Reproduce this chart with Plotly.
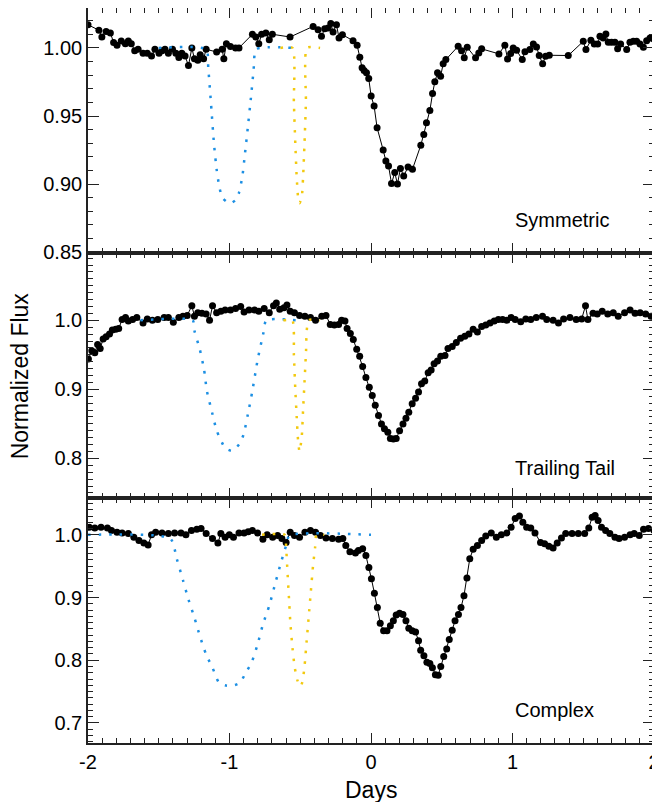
import plotly.graph_objects as go
from plotly.subplots import make_subplots

# ---------------- Panel 1: Symmetric ----------------
sym_x = [-2.0, -1.923, -1.902, -1.872, -1.842, -1.819, -1.795, -1.765, -1.736, -1.715, -1.694, -1.670, -1.646,
         -1.611, -1.581, -1.551, -1.527, -1.498, -1.477, -1.456, -1.432, -1.403, -1.379, -1.358, -1.337,
         -1.314, -1.290, -1.266, -1.248, -1.224, -1.207, -1.183, -1.165, -1.091, -1.052, -1.040, -1.022,
         -0.993, -0.957, -0.933, -0.838, -0.814, -0.793, -0.773, -0.743, -0.719, -0.697, -0.572,
         -0.409, -0.374, -0.350, -0.327, -0.303, -0.284, -0.268, -0.244, -0.226, -0.202, -0.127, -0.098,
         -0.079, -0.063, -0.049, -0.032, -0.016, 0.001, 0.022, 0.043, 0.086, 0.105, 0.124, 0.145, 0.168,
         0.187, 0.208, 0.231, 0.262, 0.293, 0.352, 0.373, 0.392, 0.416, 0.435, 0.451, 0.470, 0.492, 0.510,
         0.529, 0.616, 0.640, 0.659, 0.680, 0.739, 0.762, 0.782, 0.904, 0.946, 0.965, 0.987, 1.005, 1.029,
         1.069, 1.088, 1.123, 1.147, 1.170, 1.189, 1.213, 1.234, 1.260, 1.394, 1.500, 1.519, 1.554, 1.578,
         1.602, 1.618, 1.641, 1.660, 1.677, 1.700, 1.724, 1.743, 1.764, 1.807, 1.830, 1.854, 1.877, 1.901,
         1.925, 1.948, 1.972, 1.995]
sym_y = [1.017, 1.013, 1.008, 1.012, 1.011, 1.004, 1.002, 1.005, 1.003, 1.005, 1.003, 0.998, 0.999,
         0.996, 0.996, 0.994, 0.999, 0.996, 0.998, 0.999, 0.996, 0.999, 0.996, 0.993, 0.996,
         0.994, 0.987, 1.000, 0.992, 0.991, 0.995, 0.992, 0.999, 0.997, 0.999, 0.992, 1.003,
         1.001, 1.000, 1.000, 1.010, 1.008, 1.003, 1.010, 1.011, 1.006, 1.010, 1.008,
         1.0158, 1.0134, 1.0085, 1.014, 1.0146, 1.018, 1.0117, 1.017, 1.0073, 1.0097, 1.0053, 1.0019,
         0.9931, 0.9854, 0.9834, 0.9817, 0.9775, 0.9646, 0.9573, 0.9414, 0.9250, 0.9170, 0.9133, 0.9004, 0.9085,
         0.9000, 0.9114, 0.9060, 0.9126, 0.9109, 0.9285, 0.9365, 0.9451, 0.9541, 0.9665, 0.9751, 0.9817, 0.9792, 0.9883,
         0.9914, 1.0012, 0.9980, 0.9927, 1.0004, 0.9927, 0.9963, 0.9993, 0.9956, 1.0019, 0.9919, 0.9958, 1.0000, 0.9983,
         0.9914, 0.9971, 0.9988, 1.0029, 1.0007, 0.9944, 0.9883, 0.9939, 0.9946, 0.9944, 1.0048, 0.9988, 1.0056, 1.0029,
         1.0029, 1.0085, 1.0073, 1.0102, 1.0041, 1.0041, 1.0041, 0.9993, 1.0029, 0.9988, 1.0041, 1.0048, 1.0048, 1.0029,
         1.0004, 1.0053, 1.0073, 1.0066]

sym_blue_x = [-1.50, -1.165, -1.15, -1.13, -1.11, -1.09, -1.07, -1.05, -1.02, -0.99, -0.96, -0.935, -0.91,
              -0.89, -0.87, -0.85, -0.83, -0.81, -0.55]
sym_blue_y = [1.000, 0.999, 0.985, 0.958, 0.930, 0.910, 0.897, 0.890, 0.887, 0.886, 0.888, 0.893, 0.905,
              0.923, 0.942, 0.962, 0.983, 0.999, 1.000]
sym_yel_x = [-0.64, -0.555, -0.545, -0.535, -0.525, -0.515, -0.505, -0.49, -0.48, -0.47, -0.46, -0.452, -0.36]
sym_yel_y = [1.000, 1.000, 0.960, 0.930, 0.905, 0.890, 0.886, 0.890, 0.905, 0.930, 0.960, 1.000, 1.000]

# ---------------- Panel 2: Trailing Tail ----------------
tt_x = [-1.997, -1.973, -1.952, -1.932, -1.914, -1.893, -1.872, -1.848, -1.828, -1.804, -1.783, -1.759, -1.735,
        -1.715, -1.685, -1.655, -1.611, -1.581, -1.545, -1.507, -1.462, -1.432, -1.397, -1.358, -1.329, -1.299,
        -1.266, -1.248, -1.224, -1.195, -1.165, -1.141, -1.120, -1.091, -1.061, -1.031, -0.993, -0.957, -0.921,
        -0.897, -0.862, -0.823, -0.793, -0.755, -0.719, -0.689, -0.669, -0.645, -0.615, -0.594, -0.571, -0.541,
        -0.505, -0.467, -0.428, -0.392, -0.348, -0.318, -0.288, -0.259, -0.229, -0.208, -0.184, -0.169, -0.146,
        -0.125, -0.101, -0.080, -0.059, -0.036, -0.012, 0.009, 0.030, 0.053, 0.074, 0.095, 0.119, 0.137, 0.158,
        0.178, 0.202, 0.226, 0.247, 0.267, 0.291, 0.315, 0.336, 0.357, 0.380, 0.404, 0.425, 0.446, 0.470, 0.493,
        0.523, 0.544, 0.574, 0.603, 0.633, 0.663, 0.692, 0.722, 0.752, 0.782, 0.811, 0.841, 0.871, 0.900, 0.930,
        0.960, 0.990, 1.019, 1.058, 1.094, 1.129, 1.168, 1.212, 1.242, 1.287, 1.325, 1.361, 1.406, 1.450, 1.489,
        1.516, 1.533, 1.569, 1.599, 1.634, 1.673, 1.712, 1.747, 1.792, 1.831, 1.866, 1.902, 1.941, 1.979, 2.000]
tt_y = [0.944, 0.956, 0.953, 0.965, 0.959, 0.973, 0.976, 0.980, 0.986, 0.987, 0.988, 1.001, 1.004,
        0.999, 1.001, 1.004, 0.996, 1.002, 1.000, 1.001, 1.004, 1.004, 0.997, 1.004, 1.006, 1.007,
        1.021, 1.006, 1.011, 1.010, 1.009, 1.000, 1.021, 1.011, 1.013, 1.015, 1.015, 1.017, 1.020,
        1.012, 1.015, 1.015, 1.013, 1.017, 1.011, 1.021, 1.025, 1.016, 1.018, 1.022, 1.013, 1.011,
        1.007, 1.006, 1.004, 1.000, 1.006, 1.007, 0.994, 0.993, 0.994, 1.000, 0.999, 0.988, 0.981,
        0.972, 0.958, 0.948, 0.933, 0.917, 0.903, 0.891, 0.877, 0.862, 0.850, 0.843, 0.838, 0.829, 0.828,
        0.829, 0.840, 0.850, 0.858, 0.867, 0.879, 0.887, 0.896, 0.908, 0.912, 0.924, 0.928, 0.937, 0.941, 0.948,
        0.949, 0.959, 0.962, 0.968, 0.974, 0.977, 0.980, 0.987, 0.983, 0.991, 0.993, 0.996, 0.999, 1.001, 1.001,
        1.000, 1.004, 1.001, 0.998, 1.002, 1.001, 1.004, 1.006, 1.001, 1.000, 0.996, 1.002, 1.004, 1.001, 1.002,
        1.021, 1.001, 1.010, 1.009, 1.013, 1.009, 1.011, 1.006, 1.011, 1.015, 1.010, 1.011, 1.009, 1.006, 1.005]

tt_blue_x = [-1.63, -1.26, -1.248, -1.21, -1.18, -1.16, -1.12, -1.09, -1.03, -0.98, -0.93, -0.90, -0.87,
             -0.84, -0.80, -0.76, -0.74, -0.52]
tt_blue_y = [1.000, 1.000, 0.985, 0.958, 0.929, 0.898, 0.864, 0.840, 0.815, 0.811, 0.821, 0.835, 0.864,
             0.896, 0.944, 0.982, 1.000, 1.000]
tt_yel_x = [-0.62, -0.556, -0.545, -0.535, -0.525, -0.515, -0.505, -0.49, -0.48, -0.47, -0.46, -0.44, -0.36]
tt_yel_y = [1.000, 1.000, 0.950, 0.900, 0.860, 0.825, 0.810, 0.830, 0.870, 0.910, 0.950, 1.000, 1.000]

# ---------------- Panel 3: Complex ----------------
cx_x = [-1.991, -1.952, -1.908, -1.863, -1.834, -1.795, -1.759, -1.715, -1.676, -1.640, -1.605, -1.575, -1.551,
        -1.522, -1.477, -1.432, -1.388, -1.343, -1.308, -1.269, -1.231, -1.201, -1.165, -1.120, -1.082, -1.061,
        -1.031, -1.001, -0.972, -0.933, -0.897, -0.868, -0.838, -0.802, -0.764, -0.734, -0.695, -0.660, -0.630,
        -0.600, -0.571, -0.541, -0.505, -0.467, -0.428, -0.392, -0.357, -0.318, -0.273, -0.229, -0.199, -0.178,
        -0.149, -0.110, -0.089, -0.059, -0.036, -0.015, 0.003, 0.024, 0.045, 0.065, 0.089, 0.113, 0.137, 0.158,
        0.178, 0.202, 0.226, 0.247, 0.267, 0.291, 0.315, 0.336, 0.351, 0.374, 0.395, 0.416, 0.434, 0.455, 0.475,
        0.493, 0.514, 0.535, 0.553, 0.574, 0.594, 0.618, 0.636, 0.657, 0.678, 0.698, 0.722, 0.752, 0.782, 0.811,
        0.850, 0.886, 0.921, 0.960, 0.990, 1.019, 1.049, 1.073, 1.100, 1.129, 1.159, 1.198, 1.227, 1.257, 1.287,
        1.316, 1.346, 1.376, 1.421, 1.465, 1.510, 1.539, 1.563, 1.584, 1.605, 1.629, 1.658, 1.688, 1.724, 1.753,
        1.792, 1.831, 1.860, 1.896, 1.926, 1.961, 2.000]
cx_y = [1.012, 1.011, 1.012, 1.011, 1.007, 1.004, 1.003, 1.002, 0.996, 0.991, 0.987, 0.984, 1.000,
        1.004, 1.003, 1.002, 1.003, 1.003, 1.000, 1.007, 1.009, 1.010, 1.002, 0.994, 0.987, 1.002,
        0.996, 1.000, 0.996, 1.003, 1.003, 1.005, 1.007, 1.003, 0.993, 1.000, 0.996, 0.999, 0.994,
        0.988, 1.004, 0.999, 0.996, 1.004, 1.007, 1.004, 0.999, 0.995, 0.994, 0.993, 0.994, 0.983,
        0.973, 0.971, 0.975, 0.978, 0.967, 0.948, 0.930, 0.907, 0.884, 0.859, 0.847, 0.847, 0.855, 0.863,
        0.872, 0.875, 0.873, 0.863, 0.851, 0.847, 0.845, 0.831, 0.816, 0.807, 0.797, 0.795, 0.788, 0.777, 0.776,
        0.790, 0.806, 0.818, 0.833, 0.848, 0.863, 0.873, 0.884, 0.903, 0.931, 0.962, 0.977, 0.983, 0.991, 0.998,
        1.003, 0.996, 1.000, 1.003, 1.012, 1.026, 1.030, 1.020, 1.012, 1.011, 1.003, 0.988, 0.986, 0.982, 0.979,
        0.987, 0.995, 1.002, 1.002, 1.002, 1.002, 1.011, 1.028, 1.031, 1.023, 1.012, 1.007, 1.002, 0.996, 0.994,
        0.996, 1.000, 1.002, 0.999, 1.009, 1.010, 1.007]

cx_blue_x = [-2.0, -1.418, -1.373, -1.328, -1.290, -1.248, -1.210, -1.165, -1.120, -1.076, -1.031, -0.987,
             -0.927, -0.883, -0.844, -0.802, -0.764, -0.719, -0.675, -0.636, -0.600, -0.577, 0.0]
cx_blue_y = [1.000, 0.994, 0.962, 0.927, 0.897, 0.868, 0.839, 0.809, 0.788, 0.765, 0.760, 0.759,
             0.764, 0.781, 0.796, 0.825, 0.857, 0.887, 0.924, 0.956, 0.983, 0.999, 1.000]
cx_yel_x = [-0.77, -0.61, -0.60, -0.59, -0.58, -0.57, -0.555, -0.54, -0.52, -0.50, -0.485, -0.47, -0.455,
            -0.44, -0.425, -0.41, -0.395, -0.385, -0.33]
cx_yel_y = [1.000, 1.000, 0.980, 0.940, 0.900, 0.860, 0.820, 0.790, 0.768, 0.758, 0.765, 0.790, 0.830,
            0.870, 0.910, 0.950, 0.980, 1.000, 1.000]

panel_labels = ["Symmetric", "Trailing Tail", "Complex"]
label_y = [0.874, 0.786, 0.721]
y_ranges = [[0.8494, 1.0293], [0.7427, 1.0974], [0.668, 1.0588]]
y_ticks = [[0.85, 0.90, 0.95, 1.00], [0.8, 0.9, 1.0], [0.7, 0.8, 0.9, 1.0]]
y_ticktext = [["0.85", "0.90", "0.95", "1.00"], ["0.8", "0.9", "1.0"], ["0.7", "0.8", "0.9", "1.0"]]
x_ticks = [-2, -1, 0, 1, 2]
x_ticktext = ["-2", "-1", "0", "1", "2"]

BLUE = "#1c8fe3"
YEL = "#f2c90f"
FONT = "Liberation Sans, Arial, sans-serif"

fig = make_subplots(rows=3, cols=1, shared_xaxes=True, vertical_spacing=0)

panels = [
    (sym_x, sym_y, sym_blue_x, sym_blue_y, sym_yel_x, sym_yel_y),
    (tt_x, tt_y, tt_blue_x, tt_blue_y, tt_yel_x, tt_yel_y),
    (cx_x, cx_y, cx_blue_x, cx_blue_y, cx_yel_x, cx_yel_y),
]

for i, (dx, dy, bx, by, yx, yy) in enumerate(panels, start=1):
    fig.add_trace(go.Scatter(x=dx, y=dy, mode="lines+markers",
                             line=dict(color="black", width=1),
                             marker=dict(color="black", size=7),
                             showlegend=False), row=i, col=1)
    fig.add_trace(go.Scatter(x=bx, y=by, mode="lines",
                             line=dict(color=BLUE, width=2.5, dash="2.5px,8px", shape="spline", smoothing=0.6),
                             showlegend=False), row=i, col=1)
    fig.add_trace(go.Scatter(x=yx, y=yy, mode="lines",
                             line=dict(color=YEL, width=2.5, dash="2.5px,8px", shape="spline", smoothing=0.6),
                             showlegend=False), row=i, col=1)

axis_common = dict(showline=True, linecolor="#222", linewidth=1.6, mirror="allticks",
                   ticks="inside", tickcolor="#222", tickwidth=1.2, showgrid=False, zeroline=False,
                   automargin=False,
                   tickfont=dict(family=FONT, size=20, color="black"))

for i in range(1, 4):
    fig.update_yaxes(row=i, col=1, range=y_ranges[i - 1], tickvals=y_ticks[i - 1],
                     ticktext=y_ticktext[i - 1], ticklen=11,
                     minor=dict(ticks="inside", dtick=0.01, ticklen=5.5, tickcolor="#222", tickwidth=1,
                                showgrid=False),
                     **axis_common)
    fig.update_xaxes(row=i, col=1, range=[-2, 2], tickvals=x_ticks, ticklen=10,
                     ticktext=x_ticktext,
                     minor=dict(ticks="inside", dtick=0.1, ticklen=5, tickcolor="#222", tickwidth=1,
                                showgrid=False),
                     **axis_common)

for i in range(3):
    yref = "y" if i == 0 else f"y{i + 1}"
    xref = "x" if i == 0 else f"x{i + 1}"
    fig.add_annotation(x=1.0, y=label_y[i], xref=xref, yref=yref, text=panel_labels[i],
                       showarrow=False, xanchor="left", yanchor="middle",
                       font=dict(family=FONT, size=20, color="black"))

fig.add_annotation(x=-0.1205, y=0.5, xref="paper", yref="paper", text="Normalized Flux",
                   textangle=-90, showarrow=False, xanchor="center", yanchor="middle",
                   font=dict(family=FONT, size=23, color="black"))
fig.add_annotation(x=0.5, y=-0.043, xref="paper", yref="paper", text="Days",
                   showarrow=False, xanchor="center", yanchor="top",
                   font=dict(family=FONT, size=23, color="black"))

# the page adds an 8px body margin, so the figure is sized and offset to compensate
fig.update_layout(width=652, height=794, margin=dict(l=80, r=6, t=0, b=59),
                  plot_bgcolor="white", paper_bgcolor="white",
                  font=dict(family=FONT, color="black"))

fig.write_html("out.html")
